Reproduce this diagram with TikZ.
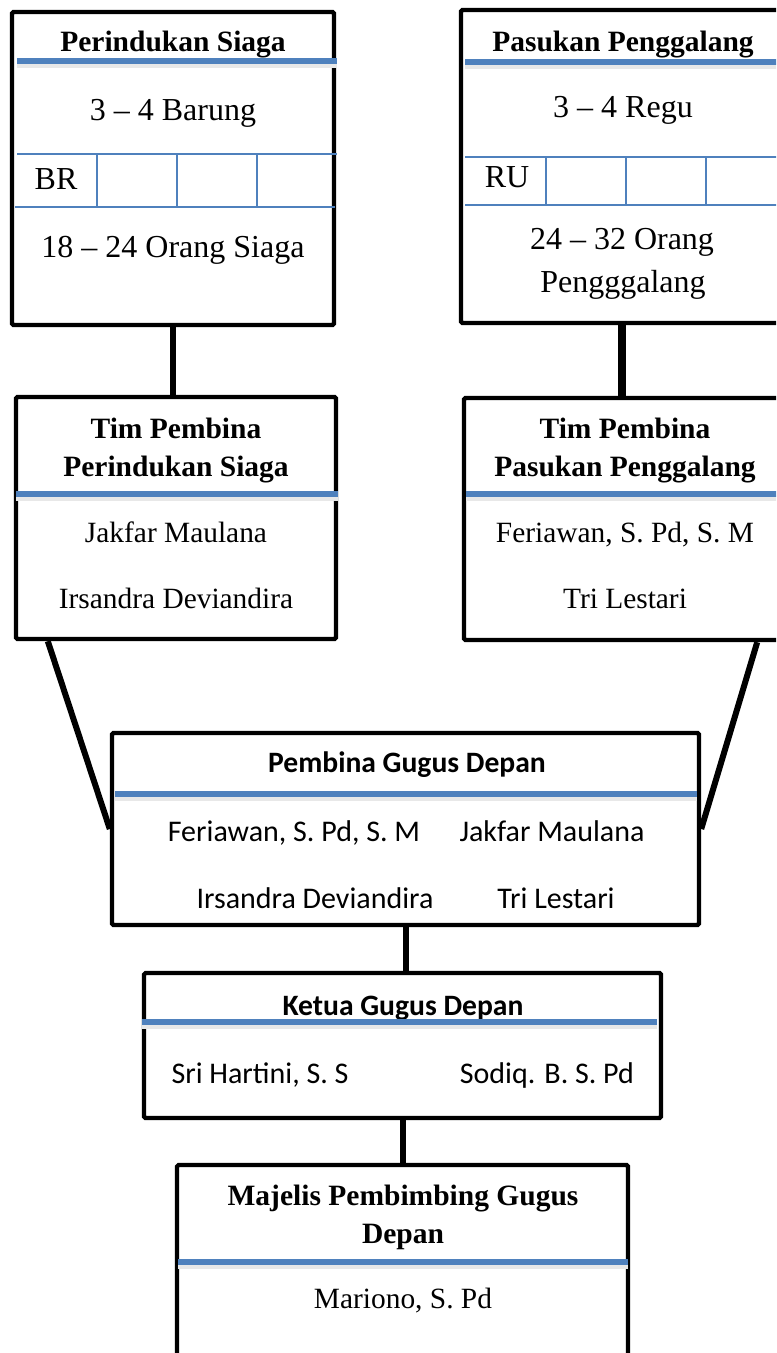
\documentclass[tikz,border=0pt]{standalone}
\usepackage{fontspec}
\setmainfont{Liberation Serif}
\newfontfamily\carlito{Carlito}
\definecolor{ofblue}{HTML}{4F81BD}
\tikzset{
  box/.style={draw,line width=2.2pt,inner sep=0pt,rounded corners=.8pt},
  link/.style={line width=3pt},
  hdr/.style={ofblue,line width=3.4pt},
  hdrshade/.style={black!9,line width=3pt},
  rule/.style={ofblue,line width=.8pt},
  ttl/.style={anchor=base,font=\bfseries\fontsize{14.75}{17}\selectfont},
  txt/.style={anchor=base,font=\fontsize{14.7}{17}\selectfont},
  bigtxt/.style={anchor=base,font=\fontsize{16}{19}\selectfont},
  cttl/.style={anchor=base,font=\carlito\bfseries\fontsize{14.8}{17}\selectfont},
  ctxt/.style={anchor=base,font=\carlito\fontsize{15}{18}\selectfont},
}
\begin{document}
\begin{tikzpicture}[x=.5pt,y=-.5pt]
\useasboundingbox (0,0) rectangle (776,1353);
\fill[white] (0,0) rectangle (776,1353);
\clip (0,0) rectangle (776,1353);
% boxes
\node[box,minimum width=161pt,minimum height=156.5pt] (siaga)   at (173,168.5)  {};
\node[box,minimum width=161pt,minimum height=156.5pt] (galang)  at (622,166.5)  {};
\node[box,minimum width=160pt,minimum height=121pt]   (tpsiaga) at (176,518)    {};
\node[box,minimum width=160pt,minimum height=121pt]   (tpgalang) at (624,519)   {};
\node[box,minimum width=293.5pt,minimum height=96pt]  (gudep)   at (405.5,829)  {};
\node[box,minimum width=258.5pt,minimum height=72.5pt] (ketua)  at (402.5,1045.5) {};
\node[box,minimum width=225.5pt,minimum height=120pt] (majelis) at (402.5,1285)  {};
% links
\draw[link] (siaga.south) -- (siaga.south |- tpsiaga.north);
\draw[line width=4pt] (galang.south) -- (galang.south |- tpgalang.north);
\draw[link] ([xshift=17pt]tpsiaga.south west) -- (gudep.west);
\draw[link] ([xshift=-14.5pt]tpgalang.south east) -- (gudep.east);
\draw[link] (gudep.south) -- (gudep.south |- ketua.north);
\draw[link] (ketua.south) -- (ketua.south |- majelis.north);
% Perindukan Siaga
\node[ttl] (siagaT) at (173,52)  {Perindukan Siaga};
\node[bigtxt] (siagaB) at (173,121) {3 -- 4 Barung};
\node[bigtxt] (siagaBR) at (56,190) {BR};
\node[bigtxt] (siagaO) at (173,258) {18 -- 24 Orang Siaga};
\draw[rule] (17,154) -- (337,154);
\draw[rule] (15,207) -- (335,207);
\foreach \x in {97,177,257}
  \draw[rule] (\x,154) -- (\x,207);
% Pasukan Penggalang
\node[ttl] (galangT) at (623,52)  {Pasukan Penggalang};
\node[bigtxt] (galangR) at (623,118) {3 -- 4 Regu};
\node[bigtxt] (galangRU) at (507,188) {RU};
\node[bigtxt] (galangO1) at (622,250) {24 -- 32 Orang};
\node[bigtxt] (galangO2) at (623,293) {Pengggalang};
\draw[rule] (465,157) -- (790,157);
\draw[rule] (465,205) -- (790,205);
\foreach \x in {546,626,706}
  \draw[rule] (\x,157) -- (\x,205);
% Tim Pembina
\node[ttl] (tpsiagaT1) at (176,438) {Tim Pembina};
\node[ttl] (tpsiagaT2) at (176,476) {Perindukan Siaga};
\node[txt] (tpsiagaA)  at (176,542) {Jakfar Maulana};
\node[txt] (tpsiagaB)  at (176,608) {Irsandra Deviandira};
\node[ttl] (tpgalangT1) at (625,438) {Tim Pembina};
\node[ttl] (tpgalangT2) at (625,476) {Pasukan Penggalang};
\node[txt] (tpgalangA)  at (625,542) {Feriawan, S. Pd, S. M};
\node[txt] (tpgalangB)  at (625,608) {Tri Lestari};
% Pembina Gugus Depan
\node[cttl] (gudepT) at (407,772) {Pembina Gugus Depan};
\node[ctxt] (gudepA) at (294,841) {Feriawan, S. Pd, S. M};
\node[ctxt] (gudepB) at (552,841) {Jakfar Maulana};
\node[ctxt] (gudepC) at (315,908) {Irsandra Deviandira};
\node[ctxt] (gudepD) at (556,908) {Tri Lestari};
% Ketua Gugus Depan
\node[cttl] (ketuaT) at (403,1015) {Ketua Gugus Depan};
\node[ctxt] (ketuaA) at (260,1083) {Sri Hartini, S. S};
\node[ctxt] (ketuaB) at (547,1083) {Sodiq. B. S. Pd};
% Majelis Pembimbing
\node[ttl] (majelisT1) at (403,1205) {Majelis Pembimbing Gugus};
\node[ttl] (majelisT2) at (403,1243) {Depan};
\node[txt] (majelisA)  at (403,1308) {Mariono, S. Pd};
% header rules
\foreach \a/\b/\y in {17/337/61, 465/790/62, 16/338/494, 466/790/494,
                      115/697/794, 142/657/1022, 178/628/1262} {
  \draw[hdrshade] (\a,\y+4) -- (\b,\y+4);
  \draw[hdr] (\a,\y) -- (\b,\y);
}
\end{tikzpicture}
\end{document}
